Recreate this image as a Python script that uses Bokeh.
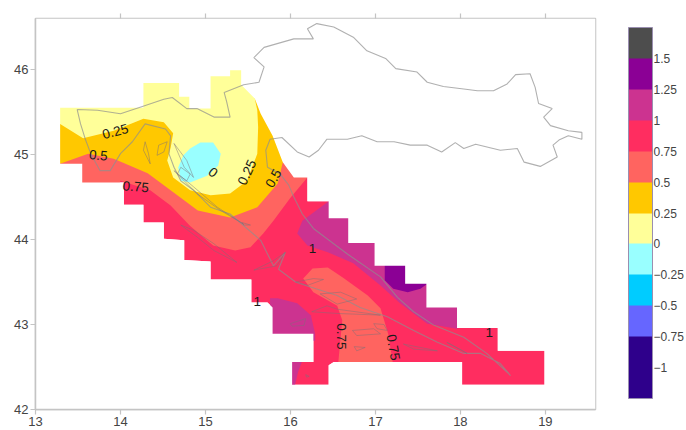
import numpy as np
from bokeh.core.properties import value
from bokeh.embed import file_html
from bokeh.models import ColorBar, ColumnDataSource, FixedTicker, LinearAxis, LinearColorMapper, Range1d
from bokeh.plotting import figure
from bokeh.resources import INLINE

FONT = "Liberation Sans"
LEVELS = [-1.25, -1, -0.75, -0.5, -0.25, 0, 0.25, 0.5, 0.75, 1, 1.25, 1.5, 1.75]
PALETTE = ["#2e008b", "#2e008b", "#6666ff", "#00ccff", "#99ffff", "#ffff99",
           "#ffc800", "#ff6460", "#ff2d60", "#cc3390", "#8b0095", "#4d4d4d"]
COLORBAR_TICKS = [-1, -0.75, -0.5, -0.25, 0, 0.25, 0.5, 0.75, 1, 1.25, 1.5]
X_TICKS = [13, 14, 15, 16, 17, 18, 19]
Y_TICKS = [42, 43, 44, 45, 46]
Y_LABELS = {42: "42", 43: "43", 44: "44", 45: "45", 46: "46"}

data_area = [(13.29,45.55),(14.27,45.55),(14.27,45.84),(14.69,45.84),(14.69,45.68),(14.81,45.68),(14.81,45.54),
 (15.06,45.54),(15.06,45.92),(15.29,45.92),(15.29,45.99),(15.42,45.99),(15.42,45.82),(15.58,45.66),(15.65,45.48),
 (15.79,45.22),(15.91,44.91),(16.04,44.73),(16.20,44.73),(16.20,44.45),(16.45,44.45),(16.45,44.25),(16.68,44.25),
 (16.68,43.96),(16.99,43.96),(16.99,43.69),(17.35,43.69),(17.35,43.48),(17.60,43.48),(17.60,43.20),(17.96,43.20),
 (17.96,42.96),(18.44,42.96),(18.44,42.69),(18.99,42.69),(18.99,42.29),(18.02,42.29),(18.02,42.56),(16.51,42.56),
 (16.45,42.52),(16.45,42.29),(16.02,42.29),(16.02,42.56),(16.27,42.56),(16.27,42.89),(15.79,42.89),(15.79,43.20),
 (15.73,43.26),(15.54,43.26),(15.54,43.53),(15.06,43.53),(15.06,43.74),(14.75,43.76),(14.75,43.99),(14.51,44.01),
 (14.51,44.20),(14.27,44.20),(14.27,44.41),(14.04,44.41),(14.04,44.67),(13.55,44.67),(13.55,44.89),(13.29,44.89)]

band_050_075 = [(13.1,46.1),(16.35,46.1),(16.35,44.87),(16.20,44.73),(16.00,44.49),(15.80,44.22),(15.68,44.07),
 (15.53,43.91),(15.35,43.87),(15.09,43.93),(14.82,44.16),(14.59,44.40),(14.35,44.58),(14.00,44.69),(13.94,44.52),(13.18,44.52)]
band_025_050 = [(13.1,46.1),(16.1,46.1),(16.0,44.93),(15.91,44.91),(15.85,44.66),(15.61,44.38),(15.29,44.26),
 (14.91,44.34),(14.59,44.58),(14.32,44.78),(13.92,44.95),(13.62,45.01),(13.29,44.89),(13.18,44.85)]
band_000_025 = [(13.1,46.1),(15.7,46.1),(15.58,45.66),(15.61,45.52),(15.62,45.32),(15.61,45.01),(15.49,44.69),
 (15.29,44.54),(15.06,44.52),(14.82,44.58),(14.62,44.73),(14.55,44.93),(14.59,45.08),(14.62,45.25),(14.51,45.38),
 (14.27,45.42),(13.92,45.28),(13.56,45.19),(13.29,45.36),(13.18,45.42)]
band_m025_000 = [(14.82,45.07),(14.94,45.14),(15.09,45.14),(15.18,45.01),(15.15,44.87),(15.02,44.75),(14.82,44.67),
 (14.71,44.69),(14.68,44.85),(14.74,44.99)]
south_050_075 = [(16.15,43.54),(16.26,43.66),(16.44,43.67),(16.62,43.55),(16.91,43.34),(17.06,43.19),(17.15,42.89),
 (17.21,42.52),(16.56,42.52),(16.61,43.05),(16.55,43.22),(16.27,43.38)]
north_100_125 = [(16.48,44.52),(16.45,44.45),(16.14,44.22),(16.08,44.07),(16.20,43.93),(16.44,43.85),(16.74,43.72),
 (17.06,43.46),(17.29,43.25),(17.61,43.01),(17.96,42.95),(18.12,43.02),(18.71,43.02),(18.71,44.58)]
peak_125_150 = [(17.11,43.75),(17.11,43.52),(17.21,43.42),(17.38,43.38),(17.53,43.42),(17.67,43.52),(17.67,43.75)]
west_100_125 = [(15.76,43.31),(15.85,43.31),(16.08,43.25),(16.24,43.11),(16.29,42.89),(16.29,42.81),(15.76,42.81)]
corner_100_125 = [(16.0,42.6),(16.15,42.6),(16.09,42.44),(16.05,42.27),(16.0,42.27)]

border = [(13.49,45.53),(13.73,45.52),(14.00,45.48),(14.24,45.56),(14.51,45.65),(14.61,45.67),(14.78,45.54),(14.90,45.54),
 (15.10,45.44),(15.29,45.44),(15.25,45.62),(15.22,45.73),(15.45,45.82),(15.63,45.85),(15.69,46.03),(15.57,46.14),
 (15.69,46.26),(16.04,46.36),(16.27,46.36),(16.20,46.48),(16.31,46.54),(16.51,46.50),(16.74,46.38),(16.90,46.22),
 (17.12,46.13),(17.24,46.01),(17.49,45.97),(17.61,45.85),(17.80,45.80),(18.04,45.77),(18.20,45.75),(18.39,45.75),
 (18.55,45.83),(18.65,45.94),(18.82,45.95),(18.88,45.79),(18.92,45.60),(19.08,45.54),(18.98,45.44),(19.06,45.34),
 (19.27,45.28),(19.43,45.26),(19.43,45.18),(19.27,45.22),(19.16,45.17),(19.09,45.11),(19.14,44.97),(18.94,44.86),
 (18.75,44.91),(18.67,45.07),(18.47,45.05),(18.18,45.12),(18.04,45.07),(17.94,45.14),(17.78,45.03),(17.61,45.11),
 (17.41,45.11),(17.22,45.15),(17.02,45.15),(16.84,45.22),(16.67,45.18),(16.43,45.18),(16.33,45.05),(16.22,44.97),
 (16.08,45.03),(15.90,45.20),(15.76,45.18),(15.71,45.05),(15.73,44.85),(15.88,44.77),(15.98,44.64),(16.04,44.50),
 (16.14,44.30),(16.27,44.13),(16.67,43.83),(17.06,43.56),(17.26,43.32),(17.45,43.15),(17.69,42.99),(18.04,42.85),
 (18.31,42.66),(18.59,42.40),(18.47,42.54),(18.24,42.66),(18.04,42.66),(17.73,42.79),(17.45,42.93),(17.14,43.09),
 (16.82,43.20),(16.55,43.34),(16.30,43.42),(16.06,43.50),(15.86,43.65),(15.94,43.85),(15.80,43.69),(15.65,43.99),
 (15.29,44.30),(15.06,44.38),(14.86,44.58),(14.71,44.69),(14.63,44.85),(14.57,45.01),(14.59,45.22),(14.53,45.30),
 (14.29,45.36),(14.14,45.15),(14.00,45.01),(13.88,44.81),(13.76,44.81),(13.65,45.01),(13.59,45.17),(13.53,45.36),(13.49,45.53)]

islands = [
 [(14.29,45.15),(14.27,45.05),(14.35,44.89),(14.33,45.01)],
 [(14.45,45.11),(14.55,45.15),(14.51,45.03),(14.43,44.99)],
 [(14.63,45.13),(14.78,44.93),(14.86,44.73),(14.75,44.85)],
 [(14.71,44.85),(14.82,44.77),(14.78,44.69),(14.67,44.77)],
 [(14.63,44.81),(14.90,44.54),(15.18,44.34),(15.45,44.18),(15.14,44.38),(14.86,44.62)],
 [(14.71,44.17),(14.90,44.03),(15.10,43.87),(15.37,43.73),(15.10,43.95),(14.86,44.11)],
 [(15.57,43.64),(15.80,43.75),(15.94,43.85),(15.84,43.69)],
 [(16.06,43.50),(16.27,43.54),(16.39,43.53),(16.20,43.46)],
 [(16.35,43.36),(16.59,43.38),(16.78,43.30),(16.55,43.24)],
 [(16.25,43.15),(16.43,43.22),(16.55,43.18),(17.06,43.11),(16.55,43.13)],
 [(16.00,43.01),(16.18,43.07),(16.16,42.99),(16.02,42.98)],
 [(16.73,42.93),(16.98,42.95),(17.06,42.89),(16.78,42.87)],
 [(16.98,43.01),(17.10,43.00),(17.14,42.93),(17.02,42.95)],
 [(16.75,42.74),(16.88,42.73),(16.78,42.69)],
 [(17.33,42.77),(17.73,42.69),(17.45,42.71)],
 [(17.84,42.79),(18.08,42.66),(17.90,42.76)],
 [(15.43,44.20),(15.53,44.17),(15.45,44.17)],
 [(16.18,42.41),(16.22,42.39),(16.19,42.38)],
]

contour_labels = ["0.25", "0.5", "0.75", "0", "0.25", "0.5", "1", "1", "1", "0.75", "0.75"]
contour_lon = [13.94, 13.74, 14.18, 15.09, 15.49, 15.80, 16.26, 15.61, 18.34, 16.60, 17.21]
contour_lat = [45.27, 44.99, 44.62, 44.79, 44.79, 44.72, 43.89, 43.27, 42.91, 42.86, 42.73]
contour_deg = [15, -5, -5, -40, 65, 60, 0, 0, 0, -90, -80]

XMIN, XMAX, YMIN, YMAX = 13, 19.59, 42, 46.6

def xs(pts):
    return [a for a, _ in pts]

def ys(pts):
    return [b for _, b in pts]

p = figure(width=686, height=430, output_backend="svg", toolbar_location=None,
           x_range=Range1d(XMIN, XMAX), y_range=Range1d(YMIN, YMAX),
           min_border_left=35, min_border_right=91, min_border_top=18, min_border_bottom=21,
           margin=(0, 0, 0, 0), background_fill_color="white", border_fill_color="white",
           outline_line_color="#c4c4c4", outline_line_width=1.5)
p.grid.visible = False

col = dict(zip(LEVELS, PALETTE))
p.patch(xs(data_area), ys(data_area), fill_color=col[0.75], line_color=None)
for pts, lev in [(band_050_075, 0.5), (north_100_125, 1), (peak_125_150, 1.25), (west_100_125, 1),
                 (corner_100_125, 1), (south_050_075, 0.5), (band_025_050, 0.25), (band_000_025, 0),
                 (band_m025_000, -0.25)]:
    p.patch(xs(pts), ys(pts), fill_color=col[lev], line_color=None)

# everything outside the gridded area stays white
frame_ring = [(XMIN, YMIN), (XMAX, YMIN), (XMAX, YMAX), (XMIN, YMAX)]
p.multi_polygons(xs=[[[xs(frame_ring), xs(data_area)]]], ys=[[[ys(frame_ring), ys(data_area)]]],
                 fill_color="white", line_color=None)

p.line(xs(border), ys(border), line_color="#8f8f8f", line_width=1.1, line_alpha=0.7)
closed = [isl + isl[:1] for isl in islands]
p.multi_line([xs(c) for c in closed], [ys(c) for c in closed], line_color="#7d6f78", line_width=0.8, line_alpha=0.6)

src = ColumnDataSource(dict(x=contour_lon, y=contour_lat, t=contour_labels, a=np.deg2rad(contour_deg)))
p.text("x", "y", text="t", angle="a", source=src, text_font=value(FONT), text_font_size="13.5px",
       text_color="#1a1a1a", text_align="center", text_baseline="middle")

for ax, ticks in ((p.xaxis[0], X_TICKS), (p.yaxis[0], Y_TICKS)):
    ax.ticker = FixedTicker(ticks=ticks)
    ax.axis_line_color = "#c4c4c4"
    ax.axis_line_width = 1.5
    ax.major_tick_line_color = "#c4c4c4"
    ax.major_tick_line_width = 1.2
    ax.major_tick_in = 0
    ax.major_tick_out = 5
    ax.minor_tick_line_color = None
    ax.major_label_text_font = FONT
    ax.major_label_text_font_size = "13px"
    ax.major_label_text_color = "#444444"
    ax.major_label_standoff = 2
p.yaxis[0].major_label_overrides = Y_LABELS
p.yaxis[0].major_label_orientation = "horizontal"

top = LinearAxis(ticker=FixedTicker(ticks=X_TICKS[1:]), axis_line_color=None, major_tick_line_color="#c4c4c4",
                 major_tick_line_width=1.2, major_tick_in=0, major_tick_out=5, minor_tick_line_color=None,
                 major_label_text_color=None, major_label_text_font_size="1px", major_label_standoff=0)
p.add_layout(top, "above")

mapper = LinearColorMapper(palette=PALETTE, low=LEVELS[0], high=LEVELS[-1])
cb = ColorBar(color_mapper=mapper, ticker=FixedTicker(ticks=COLORBAR_TICKS), width=24, height=371,
              location=(593, 11), margin=0, padding=0, major_tick_line_color=None, minor_tick_line_color=None,
              bar_line_color="#9a8fb0", bar_line_width=1, label_standoff=1, background_fill_alpha=0,
              major_label_text_font=FONT, major_label_text_font_size="12px", major_label_text_color="#444444")
p.add_layout(cb, "center")

open("out.html", "w").write(file_html(p, INLINE))
